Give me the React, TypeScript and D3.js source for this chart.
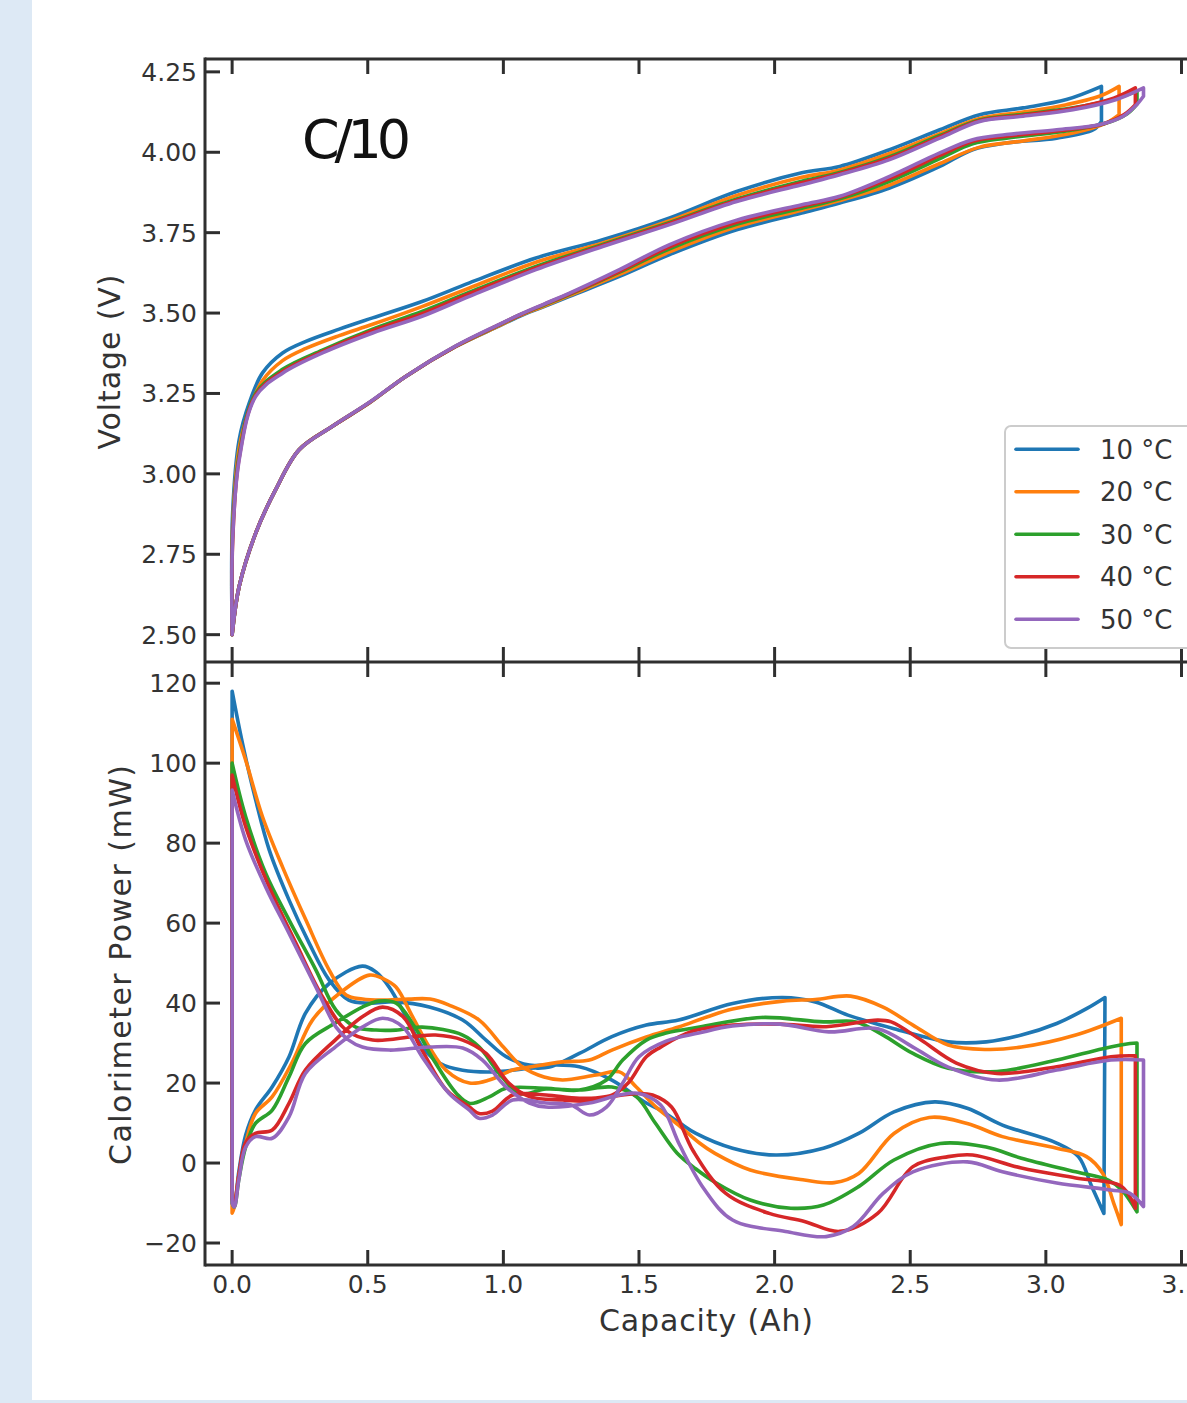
import React from "react";
import * as d3 from "d3";

type P = [number, number];

const temps = ["10 °C", "20 °C", "30 °C", "40 °C", "50 °C"];
const colors = ["#1f77b4", "#ff7f0e", "#2ca02c", "#d62728", "#9467bd"];
const xTicks = [0, 0.5, 1, 1.5, 2, 2.5, 3, 3.5];
const vTicks = [2.5, 2.75, 3.0, 3.25, 3.5, 3.75, 4.0, 4.25];
const pTicks = [-20, 0, 20, 40, 60, 80, 100, 120];

// Voltage: charge branch (upper) and discharge branch (lower), both by increasing capacity
const voltChg10: P[] = [[0,2.5],[0.002,2.88],[0.026,3.106],[0.063,3.22],[0.112,3.314],[0.186,3.376],[0.272,3.412],[0.395,3.45],[0.518,3.485],[0.70,3.536],[0.875,3.594],[1.12,3.671],[1.366,3.728],[1.613,3.796],[1.86,3.878],[2.10,3.936],[2.24,3.956],[2.424,4.008],[2.609,4.07],[2.756,4.117],[2.916,4.138],[3.076,4.164],[3.205,4.205]];
const voltDis10: P[] = [[0,2.5],[0.026,2.65],[0.087,2.816],[0.16,2.95],[0.247,3.075],[0.37,3.148],[0.505,3.22],[0.64,3.303],[0.825,3.396],[0.985,3.46],[1.06,3.49],[1.15,3.52],[1.244,3.552],[1.428,3.614],[1.613,3.682],[1.86,3.759],[2.10,3.811],[2.24,3.842],[2.424,3.889],[2.609,3.956],[2.73,4.008],[2.855,4.029],[3.04,4.044],[3.175,4.07],[3.205,4.096]];
const voltChg20: P[] = [[0,2.5],[0.002,2.84],[0.026,3.08],[0.063,3.2],[0.112,3.29],[0.186,3.352],[0.272,3.39],[0.395,3.43],[0.518,3.465],[0.70,3.52],[0.875,3.578],[1.12,3.658],[1.366,3.718],[1.613,3.787],[1.86,3.866],[2.10,3.922],[2.24,3.945],[2.424,3.996],[2.609,4.058],[2.756,4.105],[2.916,4.125],[3.076,4.148],[3.20,4.175],[3.27,4.205]];
const voltDis20: P[] = [[0,2.5],[0.026,2.65],[0.087,2.816],[0.16,2.95],[0.247,3.075],[0.37,3.148],[0.505,3.22],[0.64,3.303],[0.825,3.396],[0.985,3.461],[1.06,3.492],[1.15,3.522],[1.244,3.555],[1.428,3.62],[1.613,3.69],[1.86,3.768],[2.10,3.82],[2.24,3.85],[2.424,3.898],[2.609,3.965],[2.756,4.016],[2.916,4.035],[3.10,4.06],[3.22,4.09],[3.27,4.117]];
const voltChg30: P[] = [[0,2.5],[0.002,2.82],[0.026,3.06],[0.087,3.25],[0.186,3.325],[0.333,3.385],[0.518,3.45],[0.70,3.505],[0.875,3.565],[1.12,3.645],[1.366,3.713],[1.613,3.782],[1.86,3.855],[2.10,3.91],[2.24,3.937],[2.424,3.986],[2.609,4.052],[2.756,4.10],[2.916,4.118],[3.10,4.138],[3.25,4.165],[3.336,4.19]];
const voltDis30: P[] = [[0,2.5],[0.026,2.65],[0.087,2.816],[0.16,2.95],[0.247,3.075],[0.37,3.148],[0.505,3.221],[0.64,3.303],[0.825,3.397],[0.985,3.463],[1.06,3.494],[1.15,3.525],[1.244,3.558],[1.428,3.627],[1.613,3.70],[1.86,3.776],[2.10,3.826],[2.24,3.855],[2.424,3.91],[2.609,3.98],[2.73,4.026],[2.855,4.044],[3.04,4.062],[3.22,4.09],[3.30,4.12],[3.336,4.15]];
const voltChg40: P[] = [[0,2.5],[0.002,2.79],[0.026,3.05],[0.087,3.245],[0.186,3.318],[0.333,3.38],[0.518,3.445],[0.70,3.498],[0.875,3.56],[1.12,3.64],[1.366,3.71],[1.613,3.779],[1.86,3.851],[2.10,3.905],[2.24,3.934],[2.424,3.982],[2.609,4.048],[2.756,4.098],[2.916,4.115],[3.10,4.137],[3.25,4.168],[3.33,4.20]];
const voltDis40: P[] = [[0,2.5],[0.026,2.65],[0.087,2.816],[0.16,2.95],[0.247,3.075],[0.37,3.148],[0.505,3.221],[0.64,3.303],[0.825,3.397],[0.985,3.464],[1.06,3.494],[1.15,3.527],[1.244,3.56],[1.428,3.63],[1.613,3.706],[1.86,3.782],[2.10,3.832],[2.24,3.86],[2.424,3.918],[2.609,3.99],[2.73,4.034],[2.855,4.05],[3.04,4.066],[3.21,4.088],[3.29,4.118],[3.33,4.148]];
const voltChg50: P[] = [[0,2.5],[0.002,2.8],[0.026,3.044],[0.087,3.241],[0.186,3.313],[0.333,3.376],[0.518,3.438],[0.70,3.49],[0.875,3.552],[1.12,3.635],[1.366,3.707],[1.613,3.775],[1.86,3.847],[2.10,3.899],[2.24,3.93],[2.424,3.977],[2.609,4.044],[2.756,4.096],[2.916,4.112],[3.10,4.132],[3.26,4.164],[3.36,4.20]];
const voltDis50: P[] = [[0,2.5],[0.026,2.65],[0.087,2.816],[0.16,2.95],[0.247,3.075],[0.37,3.148],[0.505,3.222],[0.64,3.303],[0.825,3.398],[0.985,3.465],[1.06,3.495],[1.15,3.528],[1.244,3.562],[1.428,3.635],[1.613,3.713],[1.86,3.789],[2.10,3.837],[2.24,3.863],[2.424,3.925],[2.609,3.998],[2.73,4.039],[2.855,4.055],[3.04,4.07],[3.20,4.086],[3.285,4.112],[3.335,4.148],[3.36,4.174]];

// Calorimeter power: branch starting high at 0 Ah, and branch starting low at 0 Ah (both by increasing capacity)
const powHigh10: P[] = [[0,118],[0.038,105],[0.087,90.75],[0.137,78.25],[0.21,65.75],[0.284,55],[0.358,45.75],[0.43,40.75],[0.506,40],[0.604,40.3],[0.727,39],[0.85,35.75],[0.936,30.75],[1.01,26.6],[1.096,24.5],[1.157,24.5],[1.28,24.1],[1.40,20.75],[1.527,15],[1.58,13.2],[1.65,10],[1.71,7.4],[1.845,3.7],[2.005,2],[2.18,3.7],[2.31,7.4],[2.44,12.8],[2.59,15.3],[2.71,13.7],[2.84,9.5],[3.04,5],[3.12,1.6],[3.17,-6],[3.214,-12.6]];
const powLow10: P[] = [[0,-9],[0.008,-10],[0.025,-2],[0.05,7],[0.086,13.25],[0.148,19.1],[0.21,26.6],[0.27,37.4],[0.358,44.9],[0.48,49.25],[0.53,47.8],[0.579,44],[0.641,36.6],[0.702,29],[0.764,25],[0.85,23.2],[0.973,22.8],[1.096,23.7],[1.17,24],[1.28,27.4],[1.40,31.6],[1.527,34.5],[1.646,35.75],[1.845,39.9],[2.03,41.4],[2.15,40.3],[2.27,37],[2.44,33.6],[2.64,30.3],[2.78,30.3],[2.91,32],[3.04,34.9],[3.15,38.6],[3.218,41.4]];
const powHigh20: P[] = [[0,111],[0.05,100.75],[0.112,86.6],[0.186,74],[0.272,60.75],[0.358,48.25],[0.42,42],[0.48,41],[0.55,40.75],[0.65,41],[0.73,41],[0.8,39.5],[0.911,35.75],[1.0,29],[1.071,24],[1.15,21.5],[1.218,20.75],[1.342,22],[1.428,22.8],[1.49,19],[1.563,14],[1.646,9.5],[1.723,5],[1.78,2.4],[1.91,-1.75],[2.11,-4.25],[2.22,-4.9],[2.31,-2.6],[2.44,7.4],[2.57,11.4],[2.71,9.9],[2.84,6.6],[3.04,3.7],[3.15,1.6],[3.21,-2.6],[3.25,-10],[3.278,-15.4]];
const powLow20: P[] = [[0,-12.5],[0.008,-11],[0.025,-3],[0.05,5],[0.086,12.4],[0.148,16.6],[0.22,25],[0.296,35.75],[0.395,42.4],[0.506,47],[0.56,46],[0.604,44],[0.665,36.6],[0.727,29],[0.788,23.25],[0.875,20],[0.948,20.75],[1.034,23.25],[1.096,24],[1.218,25.3],[1.317,25.75],[1.40,28.25],[1.527,31.5],[1.646,34],[1.75,36.5],[1.845,38.5],[2.03,40.5],[2.15,40.9],[2.28,41.75],[2.40,39],[2.51,34.5],[2.64,29.5],[2.78,28.4],[2.91,29],[3.11,32],[3.278,36.2]];
const powHigh30: P[] = [[0,100],[0.05,86.6],[0.124,72.4],[0.21,60.75],[0.309,48.25],[0.383,38.25],[0.456,34],[0.53,33.25],[0.604,33.25],[0.70,34],[0.85,32],[0.911,29],[0.985,22.4],[1.06,17.4],[1.157,18.5],[1.28,18.25],[1.40,19],[1.49,16.6],[1.56,10],[1.64,2.5],[1.71,-1.5],[1.78,-4.8],[1.91,-9.25],[2.06,-11.3],[2.18,-10.5],[2.31,-5.9],[2.44,0.75],[2.61,4.9],[2.78,4],[2.91,1.2],[3.11,-2.2],[3.23,-4.25],[3.28,-6.75],[3.336,-12.2]];
const powLow30: P[] = [[0,-10],[0.008,-11],[0.025,-4],[0.05,4],[0.086,9.9],[0.148,13.25],[0.21,21.6],[0.27,29.9],[0.38,35],[0.48,39],[0.54,40.5],[0.605,40],[0.68,33.25],[0.75,25],[0.827,17.4],[0.876,14.9],[0.95,16.6],[1.01,18.7],[1.157,18.7],[1.28,18.25],[1.38,20.75],[1.44,25.75],[1.527,30.75],[1.60,32.5],[1.723,34],[1.95,36.4],[2.18,35.3],[2.30,35.3],[2.40,32],[2.51,27.4],[2.64,23.7],[2.82,22.9],[3.04,25.75],[3.21,28.6],[3.31,29.9],[3.336,30]];
const powHigh40: P[] = [[0,97],[0.05,84.1],[0.137,69],[0.235,55],[0.333,41.6],[0.42,33.25],[0.518,30.75],[0.665,31.6],[0.75,32],[0.85,30.75],[0.936,27.4],[1.02,20],[1.096,16.6],[1.218,15.75],[1.317,15.5],[1.40,16.6],[1.50,17.4],[1.55,17],[1.62,14],[1.70,3],[1.82,-7.6],[1.98,-12.6],[2.11,-14.6],[2.24,-17.1],[2.38,-12.6],[2.51,-0.9],[2.64,1.6],[2.73,2],[2.91,-1.25],[3.11,-3.75],[3.28,-5.9],[3.33,-11.3]];
const powLow40: P[] = [[0,-9],[0.008,-10],[0.025,-3],[0.049,5],[0.086,7.4],[0.148,8.25],[0.21,15],[0.27,23.25],[0.38,30.75],[0.48,36.6],[0.555,39],[0.63,36.6],[0.70,28.25],[0.79,18.25],[0.875,14],[0.91,12.4],[0.96,13],[1.034,17],[1.157,17],[1.28,16.2],[1.40,17],[1.46,20],[1.527,26.6],[1.58,29],[1.69,32.8],[1.845,34.5],[2.02,34.75],[2.19,34.1],[2.38,35.75],[2.43,35.3],[2.54,30.75],[2.67,25],[2.82,22.4],[3.04,24.1],[3.24,26.6],[3.33,26.8]];
const powHigh50: P[] = [[0,93.25],[0.05,80.75],[0.124,69],[0.21,57.4],[0.309,44],[0.383,34],[0.43,30.75],[0.48,29],[0.58,28.25],[0.727,29],[0.85,28.75],[0.923,25.75],[1.01,19],[1.096,15],[1.157,14],[1.317,15],[1.428,17],[1.50,17.4],[1.58,14.5],[1.65,4.5],[1.74,-6.5],[1.845,-14.25],[2.04,-17.1],[2.19,-18.4],[2.29,-15.9],[2.40,-7.6],[2.51,-2.2],[2.71,0.3],[2.84,-2.2],[3.04,-5],[3.24,-6.75],[3.31,-7.6],[3.36,-10.9]];
const powLow50: P[] = [[0,-10],[0.008,-11],[0.025,-4],[0.05,4],[0.086,6.6],[0.148,6.2],[0.21,11.6],[0.27,22.4],[0.38,29],[0.48,34],[0.555,36.2],[0.63,34],[0.70,26.6],[0.80,17.4],[0.875,13.25],[0.91,11.2],[0.96,12],[1.034,15.75],[1.157,15],[1.25,14.5],[1.317,12],[1.38,14],[1.44,20],[1.50,26.6],[1.60,30.5],[1.72,32.5],[1.845,34.25],[2.02,34.75],[2.20,32.8],[2.38,33.6],[2.51,29],[2.64,24],[2.82,20.75],[3.04,23.25],[3.24,25.75],[3.36,25.75]];

const voltSeries = [
  [voltChg10, voltDis10],
  [voltChg20, voltDis20],
  [voltChg30, voltDis30],
  [voltChg40, voltDis40],
  [voltChg50, voltDis50],
];
const powSeries = [
  [powHigh10, powLow10],
  [powHigh20, powLow20],
  [powHigh30, powLow30],
  [powHigh40, powLow40],
  [powHigh50, powLow50],
];

const W = 1187;
const H = 1403;
const L = 205;
const TOP1 = 59;
const MID = 662;
const BOT2 = 1265;
const FONT = "'DejaVu Sans', sans-serif";
const AX = "#2f2f2f";
const LW = 3.6;

export default function App() {
  const x = d3.scaleLinear().domain([-0.1, 3.6]).range([L, 1208.6]);
  const yV = d3.scaleLinear().domain([2.415, 4.29]).range([MID, TOP1]);
  const yP = d3.scaleLinear().domain([-25.5, 125.3]).range([BOT2, MID]);

  const loop = (a: P[], b: P[], y: d3.ScaleLinear<number, number>) => {
    const gen = d3
      .line<P>()
      .x((d) => x(d[0]))
      .y((d) => y(d[1]))
      .curve(d3.curveCatmullRom.alpha(0.5));
    const p1 = gen(a) || "";
    const p2 = (gen([...b].reverse()) || "").replace(/^M/, "L");
    return p1 + p2 + "Z";
  };

  const tickLen = 15;
  const fmtV = d3.format(".2f");
  const fmtX = d3.format(".1f");
  const fmtP = (v: number) => (v < 0 ? "\u2212" + Math.abs(v) : String(v));

  return (
    <div>
      <style>{"body{margin:0;} svg{display:block;}"}</style>
      <svg width={W} height={H} xmlns="http://www.w3.org/2000/svg">
        <defs>
          <clipPath id="clipTop">
            <rect x={L} y={TOP1} width={W - L} height={MID - TOP1} />
          </clipPath>
          <clipPath id="clipBot">
            <rect x={L} y={MID} width={W - L} height={BOT2 - MID} />
          </clipPath>
        </defs>
        <rect x={0} y={0} width={W} height={H} fill="#dde9f5" />
        <rect x={32} y={0} width={W - 32} height={1400} fill="#ffffff" />

        {/* data: voltage */}
        <g clipPath="url(#clipTop)" fill="none" strokeWidth={LW} strokeLinejoin="round" strokeLinecap="round">
          {voltSeries.map((s, i) => (
            <path key={"v" + i} d={loop(s[0], s[1], yV)} stroke={colors[i]} />
          ))}
        </g>
        {/* data: power */}
        <g clipPath="url(#clipBot)" fill="none" strokeWidth={LW} strokeLinejoin="round" strokeLinecap="round">
          {powSeries.map((s, i) => (
            <path key={"p" + i} d={loop(s[0], s[1], yP)} stroke={colors[i]} />
          ))}
        </g>

        {/* ticks */}
        <g stroke={AX} strokeWidth={3}>
          {xTicks.map((t) => (
            <g key={"xt" + t}>
              <line x1={x(t)} x2={x(t)} y1={TOP1} y2={TOP1 + tickLen} />
              <line x1={x(t)} x2={x(t)} y1={MID} y2={MID - tickLen} />
              <line x1={x(t)} x2={x(t)} y1={MID} y2={MID + tickLen} />
              <line x1={x(t)} x2={x(t)} y1={BOT2} y2={BOT2 - tickLen} />
            </g>
          ))}
          {vTicks.map((t) => (
            <line key={"vt" + t} x1={L} x2={L + tickLen} y1={yV(t)} y2={yV(t)} />
          ))}
          {pTicks.map((t) => (
            <line key={"pt" + t} x1={L} x2={L + tickLen} y1={yP(t)} y2={yP(t)} />
          ))}
        </g>

        {/* spines */}
        <g stroke={AX} strokeWidth={3} fill="none">
          <line x1={L} x2={L} y1={TOP1 - 1.5} y2={BOT2 + 1.5} />
          <line x1={L} x2={W} y1={TOP1} y2={TOP1} />
          <line x1={L} x2={W} y1={MID} y2={MID} />
          <line x1={L} x2={W} y1={BOT2} y2={BOT2} />
        </g>

        {/* tick labels */}
        <g fontFamily={FONT} fontSize={25} fill="#333333">
          {vTicks.map((t) => (
            <text key={"vl" + t} x={197} y={yV(t) + 9} textAnchor="end">
              {fmtV(t)}
            </text>
          ))}
          {pTicks.map((t) => (
            <text key={"pl" + t} x={197} y={yP(t) + 9} textAnchor="end">
              {fmtP(t)}
            </text>
          ))}
          {xTicks.map((t) => (
            <text key={"xl" + t} x={x(t)} y={1293} textAnchor="middle">
              {fmtX(t)}
            </text>
          ))}
        </g>

        {/* axis labels */}
        <g fontFamily={FONT} fontSize={30} fill="#333333">
          <text x={706} y={1331} textAnchor="middle" textLength={214}>
            Capacity (Ah)
          </text>
          <text transform={`translate(120,362) rotate(-90)`} textAnchor="middle" textLength={175}>
            Voltage (V)
          </text>
          <text transform={`translate(131,965) rotate(-90)`} textAnchor="middle" textLength={400}>
            Calorimeter Power (mW)
          </text>
        </g>

        {/* panel annotation */}
        <text x={302} y={158} fontFamily={FONT} fontSize={54} fill="#111111" textLength={109}>
          C/10
        </text>

        {/* legend */}
        <g>
          <rect x={1005} y={426} width={220} height={222} rx={6} ry={6} fill="#ffffff" fillOpacity={0.8} stroke="#cccccc" strokeWidth={2} />
          {temps.map((t, i) => {
            const ly = 449.3 + i * 42.5;
            return (
              <g key={"lg" + i}>
                <line x1={1016} x2={1078} y1={ly} y2={ly} stroke={colors[i]} strokeWidth={LW} strokeLinecap="round" />
                <text x={1100} y={ly + 9.5} fontFamily={FONT} fontSize={26} fill="#333333">
                  {t}
                </text>
              </g>
            );
          })}
        </g>
      </svg>
    </div>
  );
}
